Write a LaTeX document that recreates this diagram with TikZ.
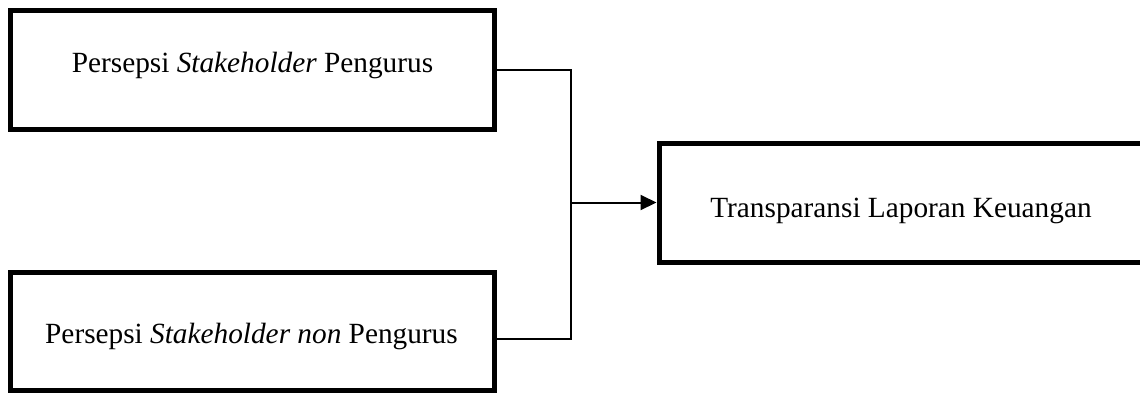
\documentclass[tikz,border=0pt]{standalone}
\usepackage{fontspec}
\setmainfont{Liberation Serif}
\usetikzlibrary{arrows.meta,calc}
\begin{document}
\begin{tikzpicture}[x=1pt,y=-1pt,
  varbox/.style={draw=black,line width=5pt,fill=white,rectangle,
    minimum width=484pt,inner sep=0pt},
  link/.style={draw=black,line width=2pt},
  lbl/.style={font=\fontsize{29.3}{34}\selectfont,anchor=base,inner sep=0pt}]
\useasboundingbox (0,0) rectangle (1140,392);
% the three variable boxes
\node[varbox,minimum height=119pt] (b1) at (252,69.5) {};
\node[varbox,minimum height=118pt] (b2) at (252,331) {};
\node[varbox,minimum height=119pt] (b3) at (901,202.5) {};
% their labels
\node[lbl] (t1) at ($(b1.center)+(0.5,2.5)$) {Persepsi \textit{Stakeholder} Pengurus};
\node[lbl] (t2) at ($(b2.center)+(-0.5,12)$) {Persepsi \textit{Stakeholder non} Pengurus};
\node[lbl] (t3) at ($(b3.center)+(0,14.5)$) {Transparansi Laporan Keuangan};
% junction of the two inputs
\coordinate (j) at (571,202.5);
\coordinate (b2out) at ($(b2.east)+(0,8)$);
% connectors
\draw[link] (b1.east) -| (j) |- (b2out);
\draw[link,-{Triangle[length=16pt,width=15pt]}] (j) -- (b3.west);
\end{tikzpicture}
\end{document}
